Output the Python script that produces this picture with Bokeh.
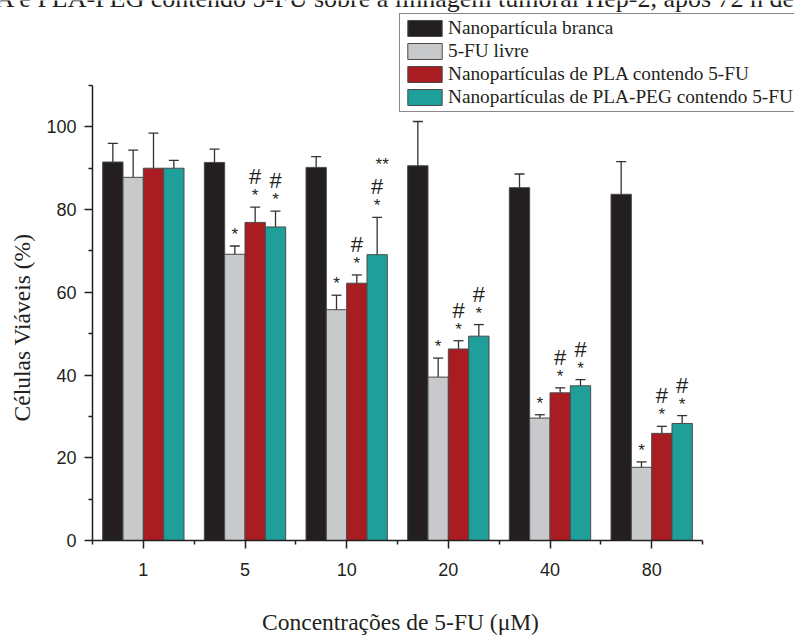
import numpy as np
from bokeh.plotting import figure
from bokeh.models import (ColumnDataSource, Whisker, TeeHead, FixedTicker, Legend,
                          LegendItem, Label, LabelSet, Range1d)
from bokeh.core.properties import value
from bokeh.embed import file_html
from bokeh.resources import INLINE

# ---------------- data ----------------
concentracoes = ["1", "5", "10", "20", "40", "80"]

series_nomes = ["Nanopartícula branca", "5-FU livre",
                "Nanopartículas de PLA contendo 5-FU",
                "Nanopartículas de PLA-PEG contendo 5-FU"]

branca = [91.5, 91.4, 90.2, 90.6, 85.3, 83.7]
branca_err = [4.5, 3.2, 2.6, 10.7, 3.3, 7.9]
livre = [87.8, 69.2, 55.8, 39.5, 29.6, 17.7]
livre_err = [6.6, 2.0, 3.5, 4.6, 0.8, 1.3]
pla = [90.0, 76.9, 62.2, 46.3, 35.7, 25.9]
pla_err = [8.5, 3.7, 2.0, 2.0, 1.2, 1.7]
plapeg = [90.0, 75.8, 69.1, 49.4, 37.4, 28.3]
plapeg_err = [1.9, 3.85, 9.0, 2.8, 1.5, 1.9]

# significance marks
ast_branca = ["", "", "", "", "", ""]
ast_livre = ["", "*", "*", "*", "*", "*"]
ast_pla = ["", "*", "*", "*", "*", "*"]
ast_peg = ["", "*", "*", "*", "*", "*"]
cerq_branca = ["", "", "", "", "", ""]
cerq_livre = ["", "", "", "", "", ""]
cerq_pla = ["", "#", "#", "#", "#", "#"]
cerq_peg = ["", "#", "#", "#", "#", "#"]
dupla_peg = ["", "", "**", "", "", ""]

titulo = "A e PLA-PEG contendo 5-FU sobre a linhagem tumoral Hep-2, após 72 h de"
y_titulo = "Células Viáveis (%)"
x_titulo = "Concentrações de 5-FU (μM)"

y_ticks = [0, 20, 40, 60, 80, 100]
y_minor = [10, 30, 50, 70, 90, 110]
y_lim = (0, 110)

# ---------------- style ----------------
cores = ["#231f20", "#c8c9cb", "#a91d22", "#1f9f99"]
deslocs = [-0.3, -0.1, 0.1, 0.3]
BAR_W = 0.2
INK = "#231f20"

W, H = 794, 636
# pixel box of the axes area inside the canvas
AX_L, AX_R, AX_T, AX_B = 92, 702, 85, 540

x_lo, x_hi = 0.5, len(concentracoes) + 0.5
ux = (x_hi - x_lo) / (AX_R - AX_L)
uy = (y_lim[1] - y_lim[0]) / (AX_B - AX_T)
x_range = Range1d(x_lo - AX_L * ux, x_hi + (W - AX_R) * ux)
y_range = Range1d(y_lim[0] - (H - AX_B) * uy, y_lim[1] + AX_T * uy)

p = figure(width=W, height=H, x_range=x_range, y_range=y_range,
           output_backend="svg", toolbar_location=None,
           min_border_left=0, min_border_right=0, min_border_top=0, min_border_bottom=0)
p.grid.visible = False
p.outline_line_color = None
p.background_fill_color = "white"
p.border_fill_color = "white"

idx = np.arange(1, len(concentracoes) + 1)
valores = [branca, livre, pla, plapeg]
erros = [branca_err, livre_err, pla_err, plapeg_err]
asts = [ast_branca, ast_livre, ast_pla, ast_peg]
cerqs = [cerq_branca, cerq_livre, cerq_pla, cerq_peg]

# cropped title at the very top (drawn first so the legend sits on top of it)
p.add_layout(Label(x=-5, y=H + 2, x_units="screen", y_units="screen", text=titulo,
                   text_align="left", text_baseline="alphabetic",
                   text_font="Liberation Serif", text_font_size="26px", text_color=INK))

bar_renderers = []
for k in range(4):
    v = np.array(valores[k])
    src = ColumnDataSource(dict(x=idx + deslocs[k], top=v))
    r = p.vbar(x="x", top="top", bottom=0, width=BAR_W, source=src, fill_color=cores[k],
               line_color="#4a4a4c", line_width=1)
    bar_renderers.append(r)

for k in range(4):
    v = np.array(valores[k])
    e = np.array(erros[k])
    src = ColumnDataSource(dict(x=idx + deslocs[k], upper=v + e, lower=v - e))
    w = Whisker(base="x", upper="upper", lower="lower", source=src,
                line_color="#333333", line_width=1.3,
                upper_head=TeeHead(size=10, line_color="#333333", line_width=1.3),
                lower_head=TeeHead(size=10, line_color="#333333", line_width=1.3))
    p.add_layout(w)

# significance annotations
def add_marks(k, marks, offset, size, dx=0):
    v = np.array(valores[k])
    e = np.array(erros[k])
    xs, ys, ts = [], [], []
    for i, m in enumerate(marks):
        if m:
            xs.append(idx[i] + deslocs[k])
            ys.append(v[i] + e[i])
            ts.append(m)
    if not ts:
        return
    src = ColumnDataSource(dict(x=xs, y=ys, t=ts))
    ls = LabelSet(x="x", y="y", text="t", source=src, x_offset=dx, y_offset=offset,
                  text_align="center", text_baseline="alphabetic",
                  text_font=value("Liberation Sans"), text_font_size=size,
                  text_color=INK)
    p.add_layout(ls)

for k in range(4):
    add_marks(k, asts[k], 6, "17px")
    add_marks(k, cerqs[k], 23, "22px")
add_marks(3, dupla_peg, 47, "17px", dx=5)

# axes (fixed at the data origin, bounded to the data box)
xa = p.xaxis[0]
ya = p.yaxis[0]
xa.fixed_location = y_lim[0]
ya.fixed_location = x_lo
xa.bounds = (x_lo, x_hi)
ya.bounds = y_lim
xa.ticker = FixedTicker(ticks=list(idx), minor_ticks=list(np.arange(0.5, len(concentracoes) + 1, 1.0)))
xa.major_label_overrides = {int(i): c for i, c in zip(idx, concentracoes)}
ya.ticker = FixedTicker(ticks=y_ticks, minor_ticks=y_minor)
for ax in (xa, ya):
    ax.axis_line_color = INK
    ax.axis_line_width = 1.5
    ax.major_tick_line_color = INK
    ax.major_tick_line_width = 1.5
    ax.minor_tick_line_color = INK
    ax.minor_tick_line_width = 1.5
    ax.major_tick_out = 8
    ax.major_tick_in = 0
    ax.minor_tick_out = 4
    ax.minor_tick_in = 0
    ax.major_label_text_font = "Liberation Sans"
    ax.major_label_text_font_size = "18px"
    ax.major_label_text_color = INK
xa.major_label_standoff = 14
ya.major_label_standoff = 8

# axis titles, in canvas pixels from bottom-left
p.add_layout(Label(x=21, y=309, x_units="screen", y_units="screen", text=y_titulo,
                   angle=np.pi / 2, text_align="center", text_baseline="alphabetic",
                   text_font="Liberation Serif", text_font_size="23.5px", text_color=INK))
p.add_layout(Label(x=400, y=15, x_units="screen", y_units="screen", text=x_titulo,
                   text_align="center", text_baseline="alphabetic",
                   text_font="Liberation Serif", text_font_size="23.5px", text_color=INK))

legend = Legend(items=[LegendItem(label=series_nomes[k], renderers=[bar_renderers[k]])
                       for k in range(4)],
                location=(399, H - 112), orientation="vertical",
                glyph_width=43, glyph_height=20, label_height=20, label_width=390,
                label_standoff=2, spacing=1, padding=3, margin=0,
                label_text_font="Liberation Serif", label_text_font_size="19.3px",
                label_text_color=INK, border_line_color="#111111", border_line_width=1,
                background_fill_color="white", background_fill_alpha=1.0)
p.add_layout(legend)

open("out.html", "w").write(file_html(p, INLINE))
